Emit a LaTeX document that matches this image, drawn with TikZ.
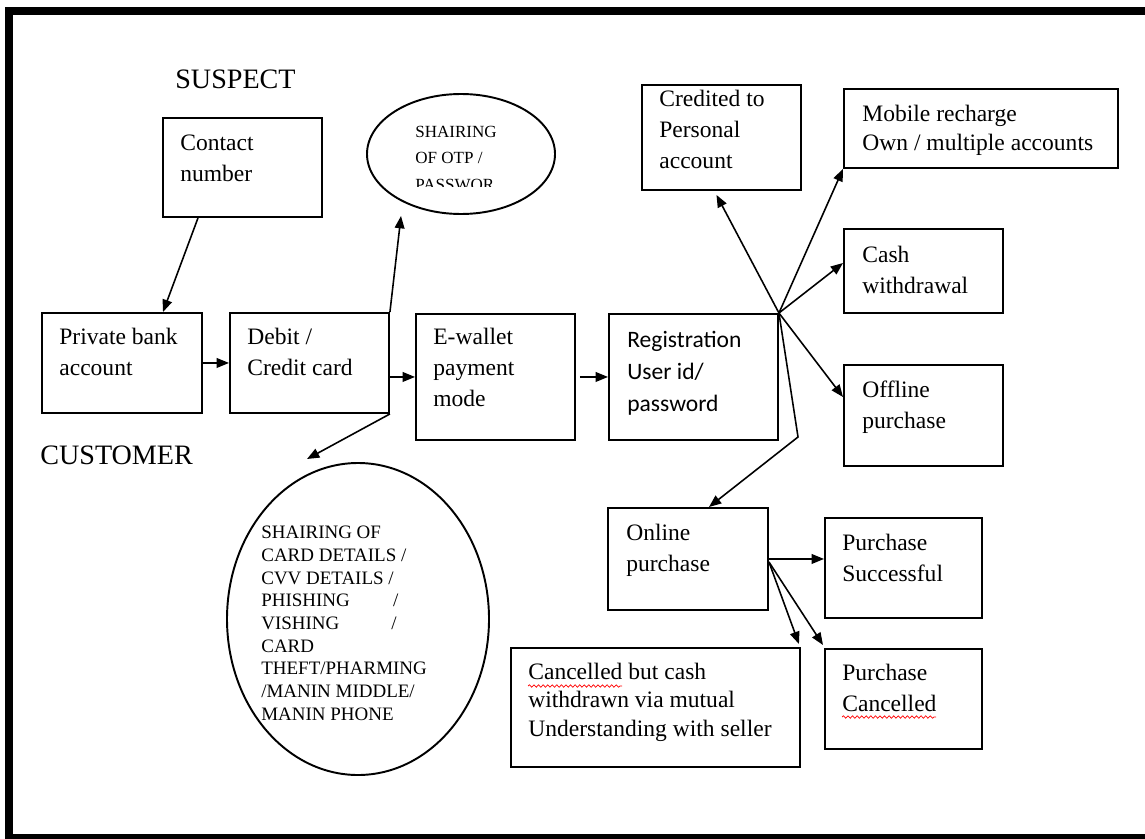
\documentclass[tikz,border=0pt]{standalone}
\usepackage{fontspec}
\setmainfont{Liberation Serif}
\newfontfamily\calibfont{Carlito}
\usetikzlibrary{arrows.meta, shapes.geometric, decorations.pathmorphing}
\newcommand\pxu{0.02cm}
\tikzset{
  box/.style={draw, line width=1.1pt, anchor=north west, inner sep=0pt},
  boxtext/.style={anchor=base west, align=left, inner sep=0pt, font=\fontsize{13.4}{17.6}\selectfont},
  conn/.style={line width=0.9pt, -{Triangle[length=7pt,width=5.5pt]}},
  bigtext/.style={anchor=base west, inner sep=0pt, font=\fontsize{16}{19}\selectfont},
  oval/.style={draw, ellipse, line width=1.1pt, inner sep=0pt},
  spell/.style={red, line width=0.4pt, decorate, decoration={snake, amplitude=0.7pt, segment length=2.6pt}},
}
\begin{document}
\begin{tikzpicture}[x=0.02cm, y=-0.02cm]
  \useasboundingbox (0,0) rectangle (1145,838);
  \draw[line width=4.6pt] (9,11) rectangle (1160,838);

  % headings
  \node[bigtext] (suspect) at (175,89) {SUSPECT};
  \node[bigtext] (customer) at (40,464) {CUSTOMER};

  % boxes
  \node[box, minimum width=159*\pxu, minimum height=99*\pxu] (contact) at (162,117) {};
  \node[box, minimum width=160*\pxu, minimum height=100*\pxu] (private) at (41,312) {};
  \node[box, minimum width=159*\pxu, minimum height=100*\pxu] (debit) at (229,312) {};
  \node[box, minimum width=159*\pxu, minimum height=126*\pxu] (ewallet) at (415,313) {};
  \node[box, minimum width=169*\pxu, minimum height=126*\pxu] (reg) at (608,313) {};
  \node[box, minimum width=159*\pxu, minimum height=105*\pxu] (credited) at (641,84) {};
  \node[box, minimum width=274*\pxu, minimum height=79*\pxu] (mobile) at (843,88) {};
  \node[box, minimum width=159*\pxu, minimum height=84*\pxu] (cash) at (843,228) {};
  \node[box, minimum width=159*\pxu, minimum height=101*\pxu] (offline) at (843,364) {};
  \node[box, minimum width=160*\pxu, minimum height=102*\pxu] (online) at (607,507) {};
  \node[box, minimum width=157*\pxu, minimum height=100*\pxu] (succ) at (824,517) {};
  \node[box, minimum width=157*\pxu, minimum height=100*\pxu] (pcanc) at (824,648) {};
  \node[box, minimum width=289*\pxu, minimum height=119*\pxu] (cbut) at (510,647) {};

  % box texts (anchored at the last baseline)
  \node[boxtext] (contact-t) at ([shift={(18,64)}]contact.north west) {Contact\\number};
  \node[boxtext] (private-t) at ([shift={(18,63)}]private.north west) {Private bank\\account};
  \node[boxtext] (debit-t) at ([shift={(18,63)}]debit.north west) {Debit /\\Credit card};
  \node[boxtext] (ewallet-t) at ([shift={(18,93)}]ewallet.north west) {E-wallet\\payment\\mode};
  \node[boxtext, font=\calibfont\fontsize{13.4}{18.2}\selectfont] (reg-t) at ([shift={(19,98)}]reg.north west) {Registration\\User id/\\password};
  \node[boxtext] (credited-t) at ([shift={(18,84)}]credited.north west) {Credited to\\Personal\\account};
  \node[boxtext, font=\fontsize{13.4}{16}\selectfont] (mobile-t) at ([shift={(19,62)}]mobile.north west) {Mobile recharge\\Own / multiple accounts};
  \node[boxtext] (cash-t) at ([shift={(19,65)}]cash.north west) {Cash\\withdrawal};
  \node[boxtext] (offline-t) at ([shift={(19,64)}]offline.north west) {Offline\\purchase};
  \node[boxtext] (online-t) at ([shift={(19,64)}]online.north west) {Online\\purchase};
  \node[boxtext] (succ-t) at ([shift={(18,64)}]succ.north west) {Purchase\\Successful};
  \node[boxtext] (pcanc-t) at ([shift={(18,63)}]pcanc.north west) {Purchase\\Cancelled};
  \node[boxtext, font=\fontsize{13.4}{16}\selectfont] (cbut-t) at ([shift={(18,89)}]cbut.north west) {Cancelled but cash\\withdrawn via mutual\\Understanding with seller};
  \draw[spell] (528,686) -- (622,686);
  \draw[spell] (842,717) -- (936,717);

  % ovals
  \node[oval, minimum width=188*\pxu, minimum height=120*\pxu] (otp) at (461,154) {};
  \begin{scope}
    \clip (0,0) rectangle (1145,186);
    \node[anchor=base west, align=left, inner sep=0pt, font=\fontsize{9.7}{14.8}\selectfont] (otp-t) at (415,190) {SHAIRING\\OF OTP /\\PASSWOR};
  \end{scope}
  \node[oval, minimum width=262*\pxu, minimum height=312*\pxu] (card) at (358,619) {};
  \node[anchor=base west, align=left, inner sep=0pt, font=\fontsize{10.8}{12.9}\selectfont] (card-t) at (261,720)
    {SHAIRING OF\\CARD DETAILS /\\CVV DETAILS /\\\makebox[75pt][l]{PHISHING}/\\\makebox[74pt][l]{VISHING}/\\CARD\\THEFT/PHARMING\\/MANIN MIDDLE/\\MANIN PHONE};

  % free ends
  \coordinate (otptip) at (401,216);
  \coordinate (cardtip) at (307,459);
  \coordinate (bend) at (798,437);

  % connectors
  \draw[conn] ([shift={(36,0)}]contact.south west) -- ([shift={(122,0)}]private.north west);
  \draw[conn] (private.east) -- (debit.west);
  \draw[conn] (debit.north east) -- (otptip);
  \draw[conn] (ewallet.west -| debit.east) -- (ewallet.west);
  \draw[conn] (debit.south east) -- (cardtip);
  \draw[conn] ([shift={(4,0)}]ewallet.east) -- (reg.west);
  \draw[conn] (reg.north east) -- ([shift={(-5,4)}]credited.south);
  \draw[conn] (reg.north east) -- (mobile.south west);
  \draw[conn] (reg.north east) -- ([shift={(0,35)}]cash.north west);
  \draw[conn] (reg.north east) -- ([shift={(0,33)}]offline.north west);
  \draw[conn] (reg.north east) -- (bend) -- ([shift={(21,0)}]online.north);
  \draw[conn] (online.east) -- (online.east -| succ.west);
  \draw[conn] ([shift={(0,3)}]online.east) -- ([shift={(-2,-3)}]cbut.north east);
  \draw[conn] ([shift={(0,3)}]online.east) -- ([shift={(-1,-3)}]pcanc.north west);
\end{tikzpicture}
\end{document}
